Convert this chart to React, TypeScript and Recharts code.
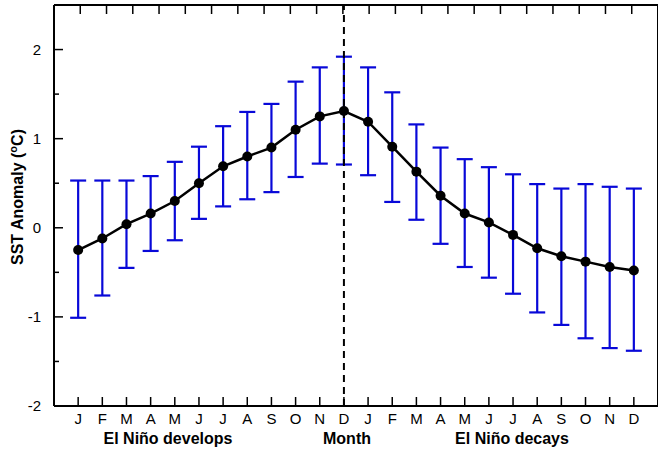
import React from "react"
import {
  ComposedChart,
  Line,
  ErrorBar,
  XAxis,
  YAxis,
  ReferenceLine,
  Customized,
} from "recharts"

// month labels for the two years (developing year, then decaying year)
const months = ["J", "F", "M", "A", "M", "J", "J", "A", "S", "O", "N", "D", "J", "F", "M", "A", "M", "J", "J", "A", "S", "O", "N", "D"]

// composite SST anomaly (°C)
const meanSST = [-0.25, -0.12, 0.04, 0.16, 0.3, 0.5, 0.69, 0.8, 0.9, 1.1, 1.25, 1.31, 1.19, 0.91, 0.63, 0.36, 0.16, 0.06, -0.08, -0.23, -0.32, -0.38, -0.44, -0.48]

// top and bottom of the error bars
const upperSST = [0.53, 0.53, 0.53, 0.58, 0.74, 0.91, 1.14, 1.3, 1.39, 1.64, 1.8, 1.92, 1.8, 1.52, 1.16, 0.9, 0.77, 0.68, 0.6, 0.49, 0.44, 0.49, 0.46, 0.44]
const lowerSST = [-1.01, -0.76, -0.45, -0.26, -0.14, 0.1, 0.24, 0.32, 0.4, 0.57, 0.72, 0.71, 0.59, 0.29, 0.09, -0.18, -0.44, -0.56, -0.74, -0.95, -1.09, -1.24, -1.35, -1.38]

const yTicks = [-2, -1.5, -1, -0.5, 0, 0.5, 1, 1.5, 2, 2.5]
const xTicks = months.map((_, i) => i)

const FONT = "'Liberation Sans', Arial, Helvetica, sans-serif"
const BLUE = "#0808d8"

const chartData = meanSST.map((m, i) => ({
  idx: i,
  month: months[i],
  mean: m,
  err: [m - lowerSST[i], upperSST[i] - m],
}))

// tick marks point into the plot, like the original figure
const LeftTick = (props: any) => {
  const { x, y, payload } = props
  const v = payload.value
  if (v >= 2.5) return <g />
  const major = Number.isInteger(v)
  return (
    <g>
      <line x1={x} x2={x + (major ? 9 : 5)} y1={y} y2={y} stroke="#000" strokeWidth={1.5} />
      {major && (
        <text x={x - 13} y={y + 5} textAnchor="end" fontSize={15} fontFamily={FONT} fill="#000">
          {String(v)}
        </text>
      )}
    </g>
  )
}

const RightTick = (props: any) => {
  const { x, y, payload } = props
  const v = payload.value
  if (v >= 2.5 || v <= -2) return <g />
  const major = Number.isInteger(v)
  return <line x1={x} x2={x - (major ? 9 : 5)} y1={y} y2={y} stroke="#000" strokeWidth={1.5} />
}

const BottomTick = (props: any) => {
  const { x, y, payload } = props
  return (
    <g>
      <line x1={x} x2={x} y1={y} y2={y - 9} stroke="#000" strokeWidth={1.5} />
      <text x={x} y={y + 18} textAnchor="middle" fontSize={15} fontFamily={FONT} fill="#000">
        {months[payload.value]}
      </text>
    </g>
  )
}

const TopTick = (props: any) => {
  const { x, y } = props
  return <line x1={x} x2={x} y1={y} y2={y + 9} stroke="#000" strokeWidth={1.5} />
}

const Labels = () => (
  <g fontFamily={FONT} fontWeight="bold" fill="#000">
    <text x={168} y={444} textAnchor="middle" fontSize={16}>El Niño develops</text>
    <text x={347} y={444} textAnchor="middle" fontSize={16}>Month</text>
    <text x={512} y={444} textAnchor="middle" fontSize={16}>El Niño decays</text>
    <text x={23} y={197} textAnchor="middle" fontSize={16} transform="rotate(-90 23 197)">
      SST Anomaly (<tspan dy={-6} fontSize={11}>o</tspan><tspan dy={6}>C)</tspan>
    </text>
  </g>
)

export default function App() {
  return (
    <div style={{ position: "absolute", left: 0, top: 0 }}>
      <ComposedChart width={660} height={451} data={chartData} margin={{ top: 0, right: 0, bottom: 0, left: 14 }}>
        <XAxis
          xAxisId="bottom"
          dataKey="idx"
          type="number"
          domain={[-1, 24]}
          ticks={xTicks}
          interval={0}
          height={45}
          tickSize={0}
          tickMargin={0}
          tickLine={false}
          axisLine={{ stroke: "#000", strokeWidth: 2 }}
          tick={BottomTick}
        />
        <XAxis
          xAxisId="top"
          orientation="top"
          type="number"
          domain={[-1, 24]}
          ticks={xTicks}
          interval={0}
          height={5}
          tickSize={0}
          tickMargin={0}
          tickLine={false}
          axisLine={{ stroke: "#000", strokeWidth: 2 }}
          tick={TopTick}
        />
        <YAxis
          yAxisId="left"
          type="number"
          domain={[-2, 2.5]}
          ticks={yTicks}
          interval={0}
          width={40}
          tickSize={0}
          tickMargin={0}
          tickLine={false}
          axisLine={{ stroke: "#000", strokeWidth: 2 }}
          tick={LeftTick}
        />
        <YAxis
          yAxisId="right"
          orientation="right"
          type="number"
          domain={[-2, 2.5]}
          ticks={yTicks}
          interval={0}
          width={2}
          tickSize={0}
          tickMargin={0}
          tickLine={false}
          axisLine={{ stroke: "#000", strokeWidth: 2 }}
          tick={RightTick}
        />
        <Line
          xAxisId="bottom"
          yAxisId="left"
          dataKey="mean"
          stroke="#000"
          strokeWidth={2.5}
          dot={{ r: 5, fill: "#000", stroke: "none" }}
          activeDot={false}
          isAnimationActive={false}
        >
          <ErrorBar dataKey="err" direction="y" width={8} stroke={BLUE} strokeWidth={2.2} isAnimationActive={false} />
        </Line>
        <ReferenceLine xAxisId="bottom" yAxisId="left" x={11} stroke="#000" strokeWidth={2} strokeDasharray="7 5" />
        <Customized component={Labels} />
      </ComposedChart>
    </div>
  )
}
